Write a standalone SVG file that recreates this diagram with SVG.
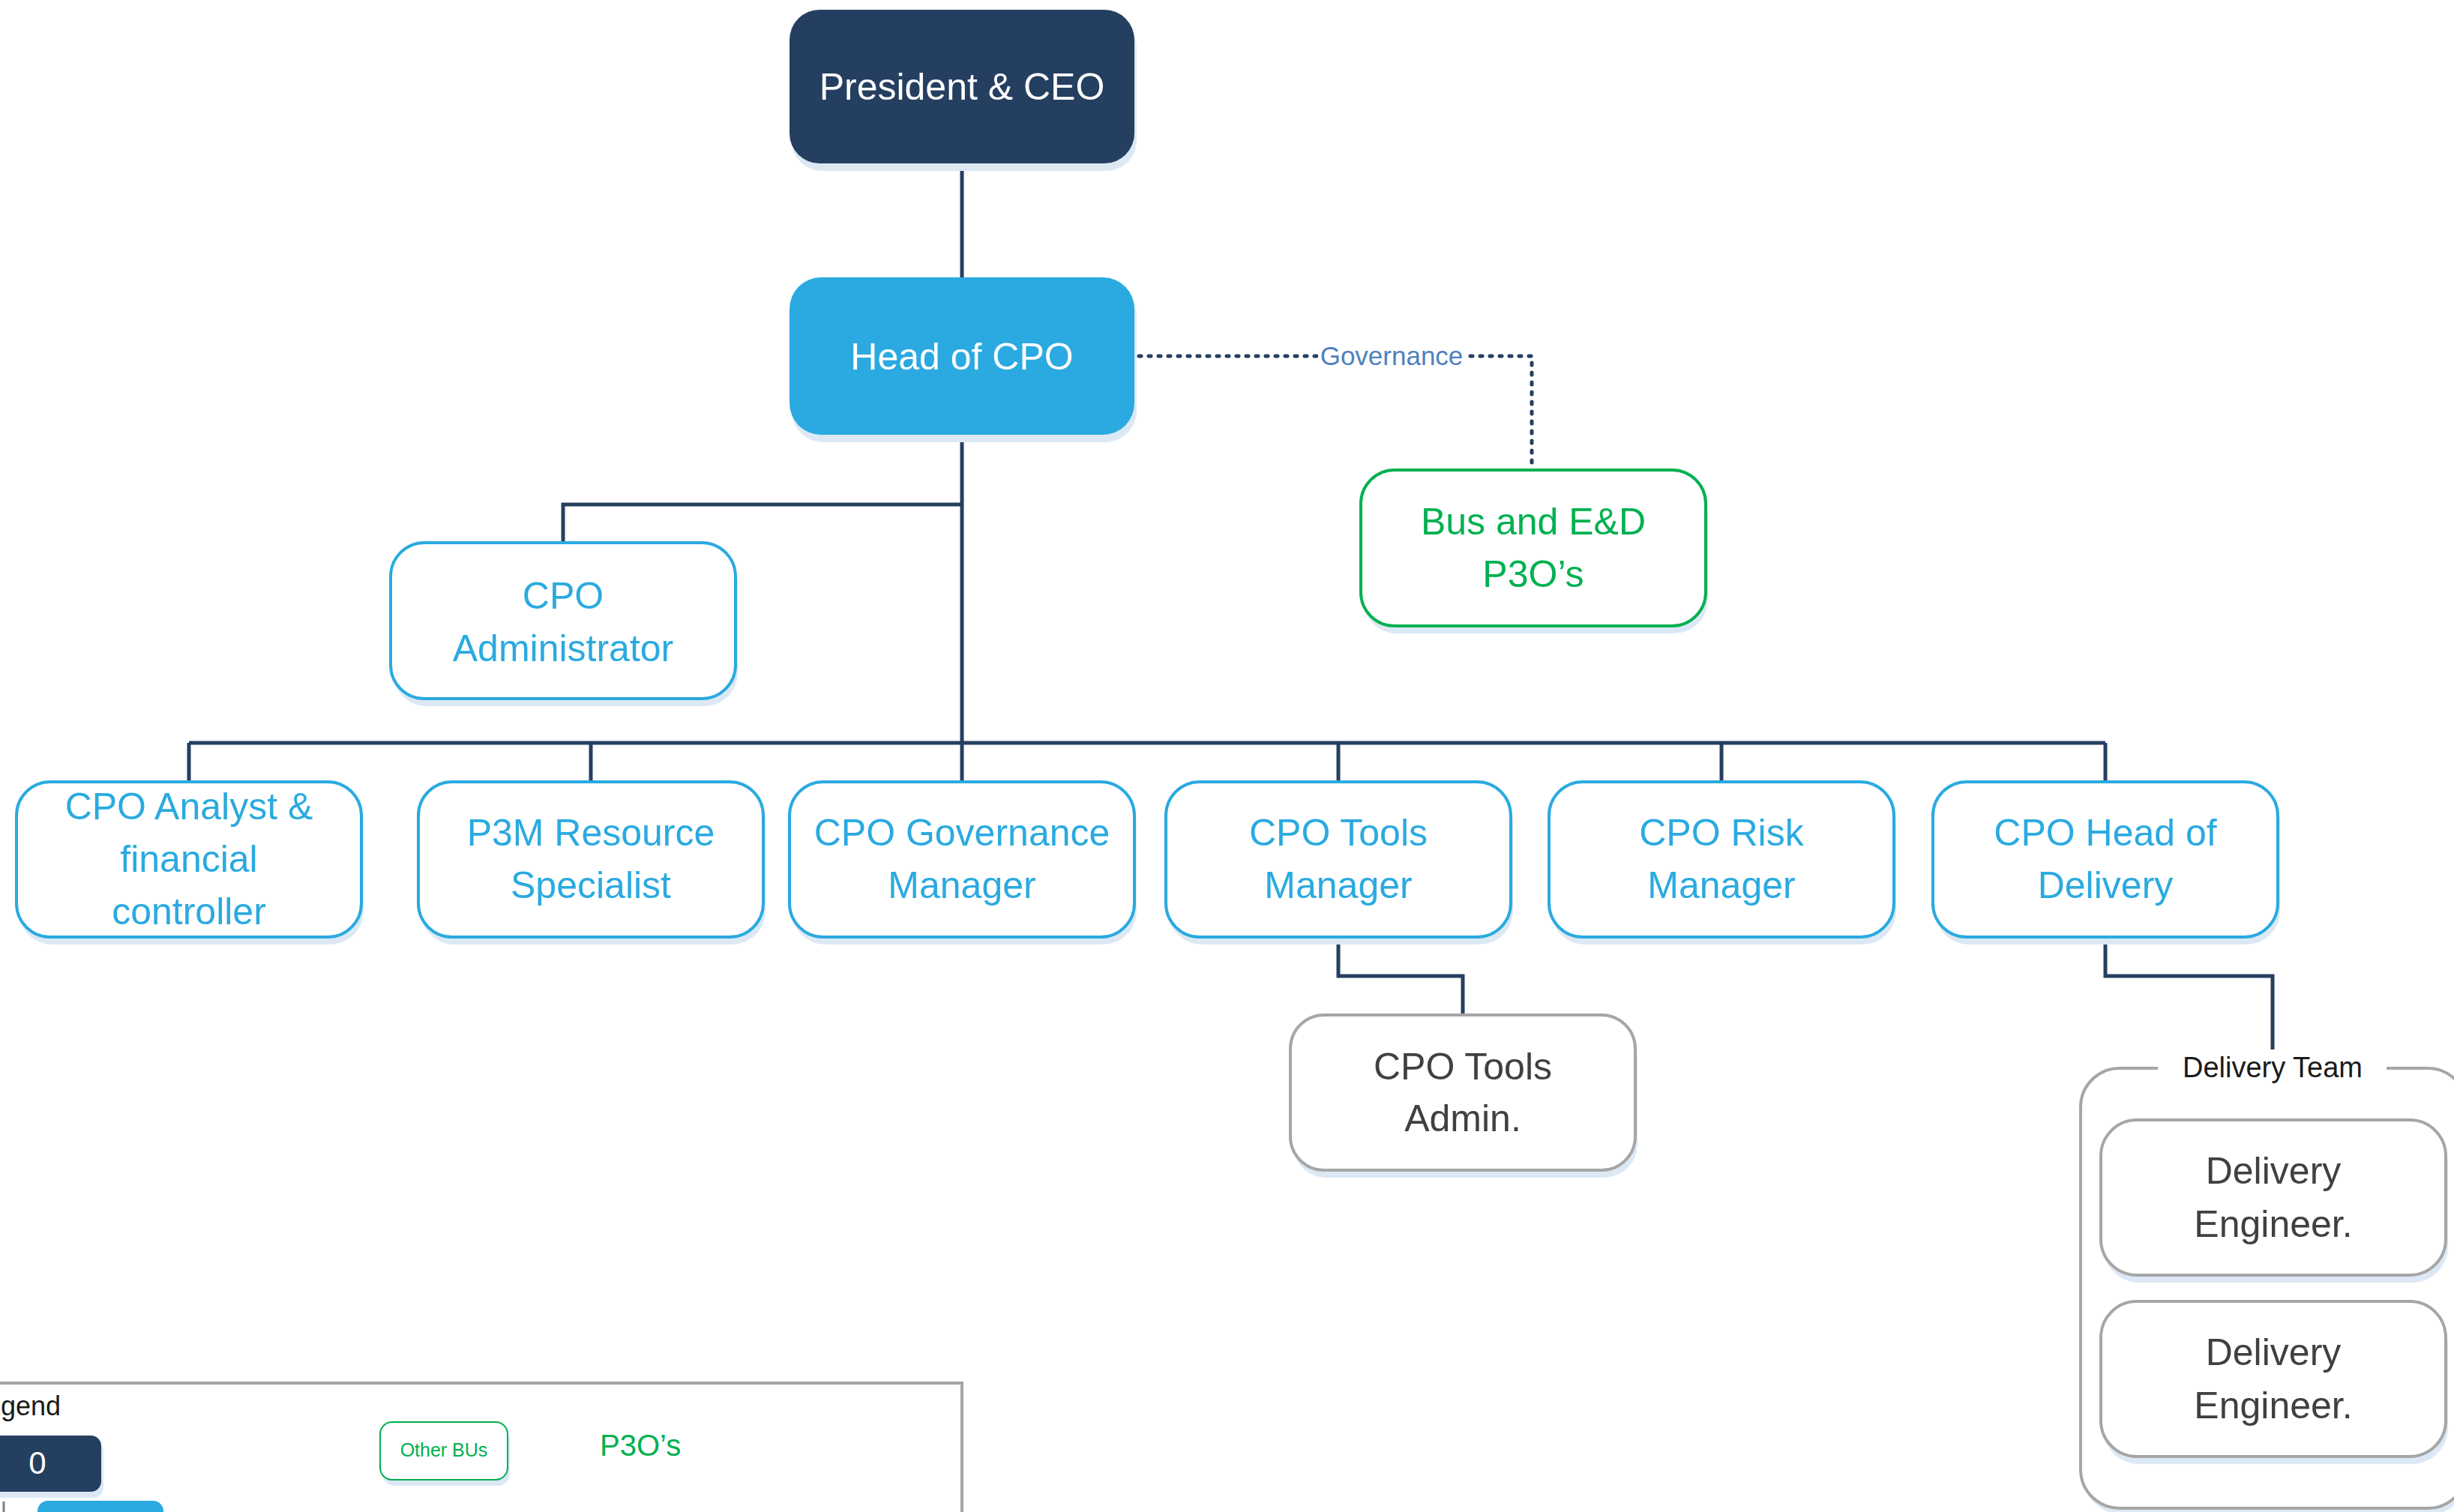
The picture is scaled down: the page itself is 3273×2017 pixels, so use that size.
<svg xmlns="http://www.w3.org/2000/svg" width="3273" height="2017" viewBox="0 0 3273 2017">
  <style>
    text { font-family: "Liberation Sans", Arial, sans-serif; text-anchor: middle; }
    .shadow { fill: #dce9f5; }
    .dark { fill: #253f60; }
    .solid { fill: #2aaae0; }
    .role { fill: #ffffff; stroke: #2aaae0; stroke-width: 4; }
    .ext { fill: #ffffff; stroke: #00b050; stroke-width: 4; }
    .staff { fill: #ffffff; stroke: #a6a6a6; stroke-width: 4; }
    .t-white { fill: #ffffff; font-size: 50px; }
    .t-blue { fill: #2aaae0; font-size: 50px; }
    .t-green { fill: #00b050; font-size: 50px; }
    .t-gray { fill: #404040; font-size: 50px; }
    .link { fill: none; stroke: #253f60; stroke-width: 5; }
    .dotted { fill: none; stroke: #253f60; stroke-width: 5; stroke-dasharray: 3 10; stroke-linecap: round; }
  </style>

  <rect width="3273" height="2017" fill="#ffffff"/>

  <!-- reporting lines -->
  <g id="connectors">
    <path class="link" d="M1283 218 V370"/>
    <path class="link" d="M1283 580 V1043"/>
    <path class="link" d="M1283 673 H751 V724"/>
    <path class="link" d="M252 991 H2808"/>
    <path class="link" d="M252 991 V1043"/>
    <path class="link" d="M788 991 V1043"/>
    <path class="link" d="M1785 991 V1043"/>
    <path class="link" d="M2296 991 V1043"/>
    <path class="link" d="M2808 991 V1043"/>
    <path class="link" d="M1785 1250 V1302 H1951 V1354"/>
    <path class="link" d="M2808 1250 V1302 H3031 V1400"/>
    <path class="dotted" d="M1519 475 H2043 V625"/>
    <rect x="1758" y="455" width="198" height="42" fill="#ffffff"/>
    <text x="1856" y="487" style="font-size:35px; fill:#4f81bd">Governance</text>
  </g>

  <g id="ceo">
    <rect class="shadow" x="1056" y="23" width="460" height="205" rx="40"/>
    <rect class="dark" x="1053" y="13" width="460" height="205" rx="40"/>
    <text class="t-white" x="1283" y="133">President &amp; CEO</text>
  </g>

  <g id="head-cpo">
    <rect class="shadow" x="1056" y="380" width="460" height="210" rx="42"/>
    <rect class="solid" x="1053" y="370" width="460" height="210" rx="42"/>
    <text class="t-white" x="1283" y="493">Head of CPO</text>
  </g>

  <g id="bus-ed-p3o">
    <rect class="shadow" x="1818" y="637" width="460" height="208" rx="45"/>
    <rect class="ext" x="1815" y="627" width="460" height="208" rx="45"/>
    <text class="t-green" x="2045" y="713">Bus and E&amp;D</text>
    <text class="t-green" x="2045" y="783">P3O’s</text>
  </g>

  <g id="cpo-administrator">
    <rect class="shadow" x="524" y="734" width="460" height="208" rx="45"/>
    <rect class="role" x="521" y="724" width="460" height="208" rx="45"/>
    <text class="t-blue" x="751" y="812">CPO</text>
    <text class="t-blue" x="751" y="882">Administrator</text>
  </g>

  <g id="cpo-analyst">
    <rect class="shadow" x="25" y="1053" width="460" height="207" rx="45"/>
    <rect class="role" x="22" y="1043" width="460" height="207" rx="45"/>
    <text class="t-blue" x="252" y="1093">CPO Analyst &amp;</text>
    <text class="t-blue" x="252" y="1163">financial</text>
    <text class="t-blue" x="252" y="1233">controller</text>
  </g>

  <g id="p3m-resource">
    <rect class="shadow" x="561" y="1053" width="460" height="207" rx="45"/>
    <rect class="role" x="558" y="1043" width="460" height="207" rx="45"/>
    <text class="t-blue" x="788" y="1128">P3M Resource</text>
    <text class="t-blue" x="788" y="1198">Specialist</text>
  </g>

  <g id="cpo-governance">
    <rect class="shadow" x="1056" y="1053" width="460" height="207" rx="45"/>
    <rect class="role" x="1053" y="1043" width="460" height="207" rx="45"/>
    <text class="t-blue" x="1283" y="1128">CPO Governance</text>
    <text class="t-blue" x="1283" y="1198">Manager</text>
  </g>

  <g id="cpo-tools">
    <rect class="shadow" x="1558" y="1053" width="460" height="207" rx="45"/>
    <rect class="role" x="1555" y="1043" width="460" height="207" rx="45"/>
    <text class="t-blue" x="1785" y="1128">CPO Tools</text>
    <text class="t-blue" x="1785" y="1198">Manager</text>
  </g>

  <g id="cpo-risk">
    <rect class="shadow" x="2069" y="1053" width="460" height="207" rx="45"/>
    <rect class="role" x="2066" y="1043" width="460" height="207" rx="45"/>
    <text class="t-blue" x="2296" y="1128">CPO Risk</text>
    <text class="t-blue" x="2296" y="1198">Manager</text>
  </g>

  <g id="cpo-head-delivery">
    <rect class="shadow" x="2581" y="1053" width="460" height="207" rx="45"/>
    <rect class="role" x="2578" y="1043" width="460" height="207" rx="45"/>
    <text class="t-blue" x="2808" y="1128">CPO Head of</text>
    <text class="t-blue" x="2808" y="1198">Delivery</text>
  </g>

  <g id="cpo-tools-admin">
    <rect class="shadow" x="1724" y="1364" width="460" height="207" rx="45"/>
    <rect class="staff" x="1721" y="1354" width="460" height="207" rx="45"/>
    <text class="t-gray" x="1951" y="1440">CPO Tools</text>
    <text class="t-gray" x="1951" y="1509">Admin.</text>
  </g>

  <g id="delivery-team">
    <rect class="shadow" x="2778" y="1433" width="515" height="587" rx="52"/>
    <rect class="staff" x="2775" y="1425" width="515" height="587" rx="52"/>
    <rect x="2878" y="1410" width="305" height="30" fill="#ffffff"/>
    <text x="3031" y="1437" style="font-size:38px; fill:#1a1a1a">Delivery Team</text>
    <g id="delivery-engineer-1">
      <rect class="shadow" x="2805" y="1504" width="460" height="207" rx="48"/>
      <rect class="staff" x="2802" y="1494" width="460" height="207" rx="48"/>
      <text class="t-gray" x="3032" y="1579">Delivery</text>
      <text class="t-gray" x="3032" y="1650">Engineer.</text>
    </g>
    <g id="delivery-engineer-2">
      <rect class="shadow" x="2805" y="1746" width="460" height="207" rx="48"/>
      <rect class="staff" x="2802" y="1736" width="460" height="207" rx="48"/>
      <text class="t-gray" x="3032" y="1821">Delivery</text>
      <text class="t-gray" x="3032" y="1892">Engineer.</text>
    </g>
  </g>

  <g id="legend">
    <rect x="-40" y="1845" width="1323" height="220" fill="#ffffff" stroke="#a6a6a6" stroke-width="4"/>
    <text x="81" y="1888" style="font-size:36px; fill:#1a1a1a; text-anchor:end">Legend</text>
    <rect class="shadow" x="-37" y="1923" width="175" height="75" rx="14"/>
    <rect class="dark" x="-40" y="1915" width="175" height="75" rx="14"/>
    <text x="50" y="1966" style="font-size:42px; fill:#ffffff">0</text>
    <line x1="5" y1="2003" x2="5" y2="2017" stroke="#7f7f7f" stroke-width="3"/>
    <rect class="solid" x="50" y="2002" width="168" height="70" rx="14"/>
    <rect class="shadow" x="510" y="1905" width="170" height="77" rx="16"/>
    <rect x="507" y="1897" width="170" height="77" rx="16" fill="#ffffff" stroke="#00b050" stroke-width="2"/>
    <text x="592" y="1943" style="font-size:25px; fill:#00b050">Other BUs</text>
    <text x="800" y="1942" style="font-size:40px; fill:#00b050; text-anchor:start">P3O’s</text>
  </g>
</svg>
